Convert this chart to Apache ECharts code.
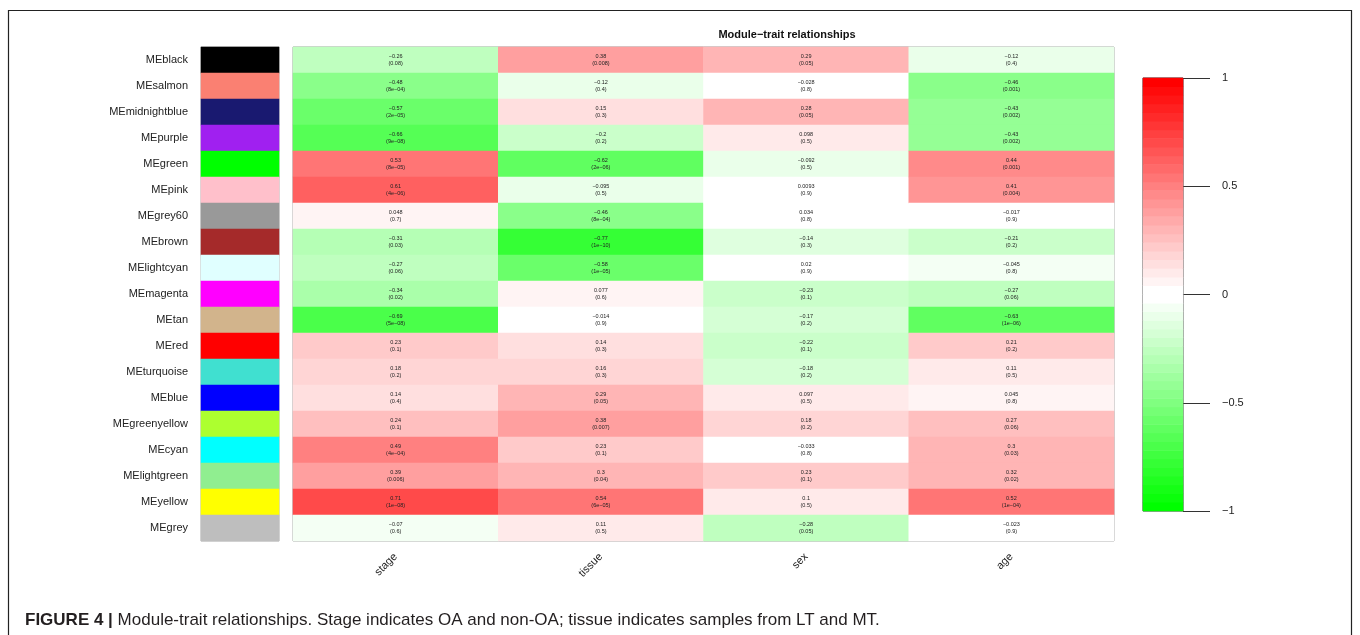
<!DOCTYPE html>
<html>
<head>
<meta charset="utf-8">
<script src="https://cdn.jsdelivr.net/npm/echarts@6/dist/echarts.min.js"></script>
<style>
  html, body { margin: 0; padding: 0; background: #fff; }
  #chart { width: 1360px; height: 635px; }
</style>
</head>
<body>
<div id="chart"></div>
<script>
// Module eigengenes (rows, top to bottom) and their module colours
const modules = ['MEblack','MEsalmon','MEmidnightblue','MEpurple','MEgreen','MEpink','MEgrey60','MEbrown','MElightcyan','MEmagenta','MEtan','MEred','MEturquoise','MEblue','MEgreenyellow','MEcyan','MElightgreen','MEyellow','MEgrey'];
const moduleColors = ['#000000','#FA8072','#191970','#A020F0','#00FF00','#FFC0CB','#999999','#A52A2A','#E0FFFF','#FF00FF','#D2B48C','#FF0000','#40E0D0','#0000FF','#ADFF2F','#00FFFF','#90EE90','#FFFF00','#BEBEBE'];

// Traits (columns)
const traits = ['stage','tissue','sex','age'];

// Correlations per trait
const corStage  = [-0.26,-0.48,-0.57,-0.66,0.53,0.61,0.048,-0.31,-0.27,-0.34,-0.69,0.23,0.18,0.14,0.24,0.49,0.39,0.71,-0.07];
const corTissue = [0.38,-0.12,0.15,-0.2,-0.62,-0.095,-0.46,-0.77,-0.58,0.077,-0.014,0.14,0.16,0.29,0.38,0.23,0.3,0.54,0.11];
const corSex    = [0.29,-0.028,0.28,0.098,-0.092,0.0093,0.034,-0.14,0.02,-0.23,-0.17,-0.22,-0.18,0.097,0.18,-0.033,0.23,0.1,-0.28];
const corAge    = [-0.12,-0.46,-0.43,-0.43,0.44,0.41,-0.017,-0.21,-0.045,-0.27,-0.63,0.21,0.11,0.045,0.27,0.3,0.32,0.52,-0.023];

// Student p-values per trait
const pStage  = ['0.08','8e-04','2e-05','9e-08','8e-05','4e-06','0.7','0.03','0.06','0.02','5e-08','0.1','0.2','0.4','0.1','4e-04','0.006','1e-08','0.6'];
const pTissue = ['0.008','0.4','0.3','0.2','2e-06','0.5','8e-04','1e-10','1e-05','0.6','0.9','0.3','0.3','0.05','0.007','0.1','0.04','6e-05','0.5'];
const pSex    = ['0.05','0.8','0.05','0.5','0.5','0.9','0.8','0.3','0.9','0.1','0.2','0.1','0.2','0.5','0.2','0.8','0.1','0.5','0.05'];
const pAge    = ['0.4','0.001','0.002','0.002','0.001','0.004','0.9','0.2','0.8','0.06','1e-06','0.2','0.5','0.8','0.06','0.03','0.02','1e-04','0.9'];

// Colour key tick labels
const keyTicks = [-1, -0.5, 0, 0.5, 1];

const corCols = [corStage, corTissue, corSex, corAge];
const pCols = [pStage, pTissue, pSex, pAge];
const minus = s => String(s).replace(/-/g, '\u2212');

const cellData = [];
corCols.forEach((col, ci) => {
  col.forEach((v, ri) => cellData.push([ci, ri, v]));
});

const moduleData = modules.map((m, i) => ({ value: [0, i, 0], itemStyle: { color: moduleColors[i] } }));

// Green-white-red palette in 50 equal steps over [-1, 1]
const steps = 50, half = 25, width = 2 / steps;
const edge = i => -1 + i * width;   // shared boundaries so neighbouring steps meet exactly
const hex2 = n => Math.round(n).toString(16).padStart(2, '0');
const pieces = [];
for (let i = 0; i < steps; i++) {
  let r, g, b;
  if (i < half) { const t = i / (half - 1); r = 255 * t; g = 255; b = 255 * t; }
  else { const t = (i - half) / (half - 1); r = 255; g = 255 * (1 - t); b = 255 * (1 - t); }
  const piece = { gte: edge(i), color: '#' + hex2(r) + hex2(g) + hex2(b) };
  if (i < steps - 1) piece.lt = edge(i + 1); else piece.lte = 1;
  pieces.push(piece);
}

// Colour key: one cell per palette step, placed at the step centre
const keyCats = [];
const keyData = [];
for (let i = 0; i < steps; i++) {
  keyCats.push(String(i));
  keyData.push([0, i, (edge(i) + edge(i + 1)) / 2]);
}

const FONT = '"Liberation Sans", Arial, Helvetica, sans-serif';

const chart = echarts.init(document.getElementById('chart'), null, { renderer: 'canvas' });
chart.setOption({
  animation: false,
  backgroundColor: '#ffffff',
  textStyle: { fontFamily: FONT },
  title: {
    text: 'Module\u2212trait relationships',
    left: 782, top: 24, textAlign: 'center',
    textStyle: { fontSize: 11, fontWeight: 'bold', color: '#111', fontFamily: FONT }
  },
  grid: [
    { left: 293, top: 47, width: 821, height: 494, show: true, borderColor: '#9a9a9a', borderWidth: 1, backgroundColor: 'transparent' },
    { left: 201, top: 47, width: 78, height: 494, show: true, borderColor: '#b0b0b0', borderWidth: 1, backgroundColor: 'transparent' },
    { left: 1143, top: 78, width: 40, height: 433, show: true, borderColor: '#333', borderWidth: 1, backgroundColor: 'transparent' }
  ],
  xAxis: [
    { type: 'category', gridIndex: 0, data: traits,
      axisLine: { show: false }, axisTick: { show: false },
      axisLabel: { rotate: 45, margin: 14, fontSize: 11, color: '#222', fontFamily: FONT } },
    { type: 'category', gridIndex: 1, data: ['c'], show: false },
    { type: 'category', gridIndex: 2, data: ['k'], show: false }
  ],
  yAxis: [
    { type: 'category', gridIndex: 0, data: modules, inverse: true, show: false },
    { type: 'category', gridIndex: 1, data: modules, inverse: true,
      axisLine: { show: false }, axisTick: { show: false },
      axisLabel: { margin: 13, fontSize: 11, color: '#222', fontFamily: FONT } },
    { type: 'category', gridIndex: 2, data: keyCats, show: false },
    { type: 'value', gridIndex: 2, min: keyTicks[0], max: keyTicks[keyTicks.length - 1], interval: 0.5, position: 'right',
      splitLine: { show: false }, axisLine: { show: false },
      axisTick: { show: true, length: 27, lineStyle: { color: '#333', width: 1 } },
      axisLabel: { margin: 39, fontSize: 11, color: '#222', fontFamily: FONT,
        formatter: v => minus(v) } }
  ],
  visualMap: {
    type: 'piecewise', show: false, dimension: 2,
    seriesIndex: [0, 2],
    pieces: pieces
  },
  series: [
    {
      type: 'heatmap', xAxisIndex: 0, yAxisIndex: 0, data: cellData,
      itemStyle: { borderWidth: 0 },
      label: {
        show: true, fontSize: 5.5, lineHeight: 7, color: '#222', fontFamily: FONT,
        formatter: p => minus(p.value[2]) + '\n(' + minus(pCols[p.value[0]][p.value[1]]) + ')'
      },
      emphasis: { disabled: true }
    },
    {
      type: 'heatmap', xAxisIndex: 1, yAxisIndex: 1, data: moduleData,
      emphasis: { disabled: true }
    },
    {
      type: 'heatmap', xAxisIndex: 2, yAxisIndex: 2, data: keyData,
      emphasis: { disabled: true }
    },
    {
      // carries the key's value scale
      type: 'line', xAxisIndex: 2, yAxisIndex: 3, data: [], silent: true
    }
  ],
  graphic: [
    { type: 'rect', shape: { x: 8.5, y: 10.5, width: 1343, height: 640 }, silent: true,
      style: { fill: 'none', stroke: '#222', lineWidth: 1.2 } },
    { type: 'text', left: 25, top: 612, silent: true,
      style: {
        text: '{b|FIGURE 4 |} Module-trait relationships. Stage indicates OA and non-OA; tissue indicates samples from LT and MT.',
        font: '17px ' + FONT, fill: '#231f20',
        rich: { b: { fontWeight: 'bold', fontSize: 17, fontFamily: FONT, fill: '#231f20' } }
      } }
  ]
});
</script>
</body>
</html>
